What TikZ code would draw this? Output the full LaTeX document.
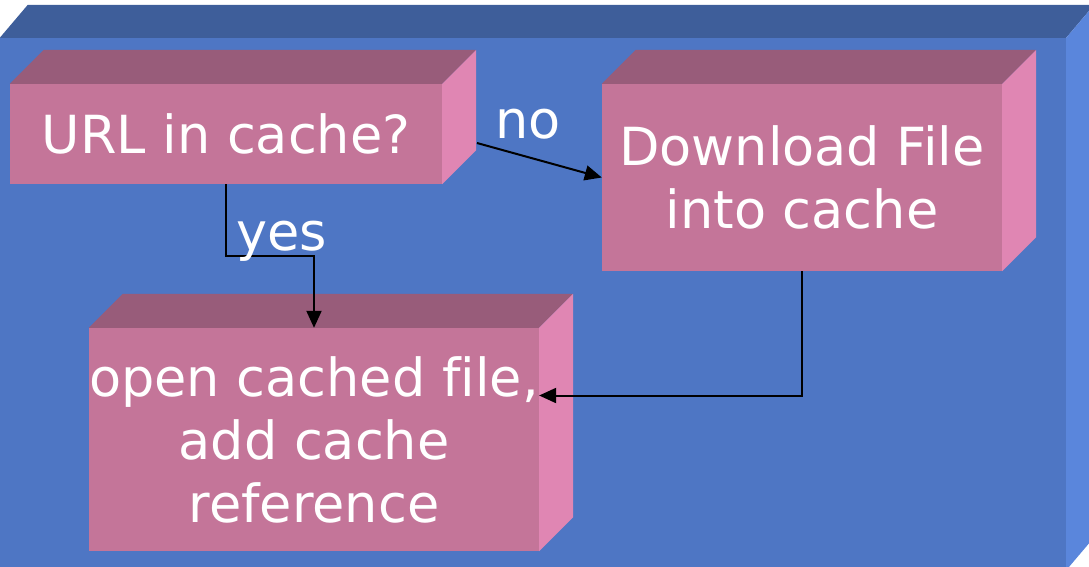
\documentclass[tikz,border=0pt]{standalone}
\usepackage{fontspec}
\setmainfont{DejaVu Sans}[Ligatures=NoCommon]
\usepackage{tikz}
\usetikzlibrary{arrows.meta,calc,positioning}

\definecolor{paneltop}{HTML}{3E5E9A}
\definecolor{panelfront}{HTML}{4E76C4}
\definecolor{panelside}{HTML}{5A86DC}
\definecolor{pinktop}{HTML}{985C7A}
\definecolor{pinkfront}{HTML}{C47599}
\definecolor{pinkside}{HTML}{E086B3}

% top and right faces behind a front node: #1 node, #2 depth, #3/#4 colours
\newcommand{\boxfaces}[4]{%
  \fill[#3] (#1.north west) -- ++(#2,#2) -- ([shift={(#2,#2)}]#1.north east) -- (#1.north east) -- cycle;
  \fill[#4] (#1.north east) -- ++(#2,#2) -- ([shift={(#2,#2)}]#1.south east) -- (#1.south east) -- cycle;
}

\tikzset{
  block/.style={fill=pinkfront,text=white,align=center,inner sep=0pt,
    font=\fontsize{52.5}{63}\selectfont},
  tag/.style={text=white,inner sep=0pt,anchor=base west,font=\fontsize{52.5}{63}\selectfont},
  flow/.style={-{Triangle[length=17pt,width=15pt]},line width=2pt,black}
}

\begin{document}
\begin{tikzpicture}[x=1pt,y=-1pt]
	\useasboundingbox (0,0) rectangle (1089,566);
	
	% blue panel behind everything
	\node[fill=panelfront,minimum width=1066pt,minimum height=532pt,inner sep=0pt] (panel) at (533,304) {};
	\fill[paneltop] (panel.north west) -- ++(28pt,33pt) -- ([shift={(28pt,33pt)}]panel.north east) -- (panel.north east) -- cycle;
	\fill[panelside] (panel.north east) -- ++(28pt,33pt) -- ([shift={(28pt,33pt)}]panel.south east) -- (panel.south east) -- cycle;
	
	\node[block,minimum width=432pt,minimum height=100pt] (url) at (226,134) {URL in cache?};
	\node[block,minimum width=400pt,minimum height=187pt] (dl) at (802,177.5) {Download File\\into cache};
	\node[block,minimum width=448pt,minimum height=223pt] (open) at (314,439.5) {open cached file,\\add cache\\reference};
	
	\boxfaces{url}{34pt}{pinktop}{pinkside}
	\boxfaces{dl}{34pt}{pinktop}{pinkside}
	\boxfaces{open}{34pt}{pinktop}{pinkside}
	
	\coordinate (nostart) at (477,143);
	
	\draw[flow] (nostart) -- (dl.west);
	\draw[flow] (url.south) -- ++(0,72) -| (open.north);
	\draw[flow] (dl.south) |- ([yshift=44pt]open.east);
	
	\node[tag] (no) at (495,138) {no};
	\node[tag] (yes) at (236,250) {yes};
\end{tikzpicture}
\end{document}
